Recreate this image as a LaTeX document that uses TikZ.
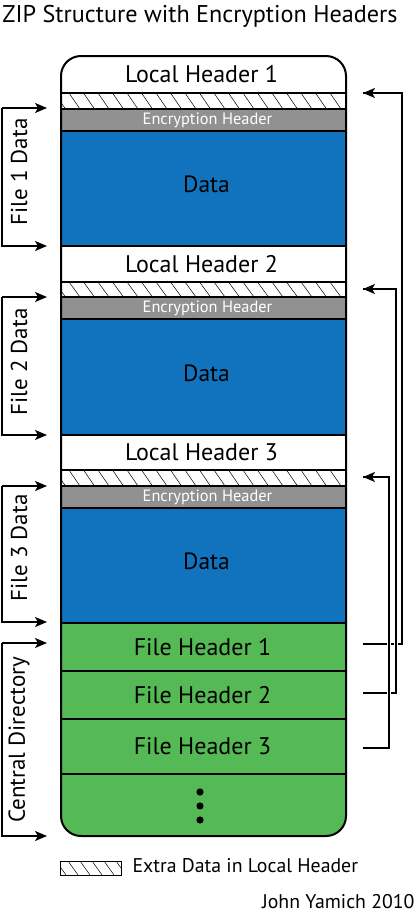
\documentclass[tikz,border=0pt]{standalone}
\usepackage{fontspec}
\setmainfont{PT Sans}
\usetikzlibrary{arrows.meta}
\definecolor{zipblue}{RGB}{17,115,189}
\definecolor{zipgreen}{RGB}{85,185,85}
\definecolor{zipgray}{RGB}{145,145,145}
\begin{document}
\begin{tikzpicture}[x=1pt,y=-1pt,
  row/.style={draw, line width=1.2pt, inner sep=0pt, outer sep=0pt, minimum width=285pt, anchor=north west},
  big/.style={font=\fontsize{24}{28}\selectfont},
  mid/.style={font=\fontsize{23.5}{27}\selectfont},
  small/.style={font=\fontsize{16.4}{19}\selectfont, text=white},
  side/.style={font=\fontsize{23}{27}\selectfont, rotate=90},
  note/.style={font=\fontsize{19.8}{23}\selectfont},
  arr/.style={line width=1.5pt, -{Stealth[length=12pt,width=10pt,inset=3pt]}},
  link/.style={line width=1.5pt, preaction={draw=white, line width=4pt}},
  hatchline/.style={line width=0.5pt}
]
\useasboundingbox (0,0) rectangle (416,916);
\node[font=\fontsize{24.2}{28}\selectfont, anchor=base] (title) at (200,22) {ZIP Structure with Encryption Headers};

\begin{scope}
\clip[rounded corners=20pt] (61,56) rectangle (346,836);
\node[row, minimum height=37pt, fill=white] (lh1) at (61,56) {};
\node[row, minimum height=16pt, fill=white, line width=0.5pt] (h1) at (61,93) {};
\node[row, minimum height=22pt, fill=zipgray] (e1) at (61,109) {};
\node[row, minimum height=115pt, fill=zipblue] (d1) at (61,131) {};
\node[row, minimum height=36pt, fill=white] (lh2) at (61,246) {};
\node[row, minimum height=15pt, fill=white, line width=0.5pt] (h2) at (61,282) {};
\node[row, minimum height=22pt, fill=zipgray] (e2) at (61,297) {};
\node[row, minimum height=116pt, fill=zipblue] (d2) at (61,319) {};
\node[row, minimum height=35pt, fill=white] (lh3) at (61,435) {};
\node[row, minimum height=16pt, fill=white, line width=0.5pt] (h3) at (61,470) {};
\node[row, minimum height=22pt, fill=zipgray] (e3) at (61,486) {};
\node[row, minimum height=115pt, fill=zipblue] (d3) at (61,508) {};
\node[row, minimum height=48pt, fill=zipgreen] (fh1) at (61,623) {};
\node[row, minimum height=48pt, fill=zipgreen] (fh2) at (61,671) {};
\node[row, minimum height=55pt, fill=zipgreen] (fh3) at (61,719) {};
\node[row, minimum height=62pt, fill=zipgreen] (cde) at (61,774) {};
\foreach \t/\b in {93/109, 282/297, 470/486}{
  \begin{scope}
  \clip (61,\t) rectangle (346,\b);
  \foreach \x in {40,54.5,...,360}{
    \draw[hatchline] (\x,\t) -- ++(11,\b-\t);
  }
  \end{scope}
}
\end{scope}
\draw[line width=2pt, rounded corners=20pt] (61,56) rectangle (346,836);

% texts
\node[big, xshift=-2pt] at (lh1.center) {Local Header 1};
\node[big, xshift=-2pt] at (lh2.center) {Local Header 2};
\node[big, xshift=-2pt] at (lh3.center) {Local Header 3};
\node[small, xshift=4pt] at (e1.center) {Encryption Header};
\node[small, xshift=4pt] at (e2.center) {Encryption Header};
\node[small, xshift=4pt] at (e3.center) {Encryption Header};
\node[mid, xshift=3pt, yshift=4pt] at (d1.center) {Data};
\node[mid, xshift=3pt, yshift=4pt] at (d2.center) {Data};
\node[mid, xshift=3pt, yshift=4pt] at (d3.center) {Data};
\node[big, xshift=-1pt] at (fh1.center) {File Header 1};
\node[big, xshift=-1pt] at (fh2.center) {File Header 2};
\node[big, xshift=-1pt] at (fh3.center) {File Header 3};
\foreach \yy in {792,806,820} \fill (200,\yy) circle (3.6pt);

% left brackets
\coordinate (b1t) at (47,108); \coordinate (b1b) at (47,246);
\coordinate (b2t) at (47,297); \coordinate (b2b) at (47,435);
\coordinate (b3t) at (47,486); \coordinate (b3b) at (47,622);
\coordinate (b4t) at (47,643); \coordinate (b4b) at (47,836);
\draw[arr] (2,108) -- (b1t);
\draw[arr] (2,108) -- (2,246) -- (b1b);
\draw[arr] (2,297) -- (b2t);
\draw[arr] (2,297) -- (2,435) -- (b2b);
\draw[arr] (2,486) -- (b3t);
\draw[arr] (2,486) -- (2,622) -- (b3b);
\draw[arr] (2,643) -- (b4t);
\draw[arr] (2,643) -- (2,836) -- (b4b);
\node[side] (l1) at (19,172) {File 1 Data};
\node[side] (l2) at (19,362) {File 2 Data};
\node[side] (l3) at (19,548) {File 3 Data};
\node[side] (l4) at (19,740) {Central Directory};

% right connectors
\coordinate (s1) at (363,644); \coordinate (t1) at (363,93);
\coordinate (s2) at (363,693); \coordinate (t2) at (363,289);
\coordinate (s3) at (363,748); \coordinate (t3) at (363,477);
\draw[link] (s1) -- (402,644) -- (402,93) -- (t1);
\draw[arr] (402,93) -- (t1);
\draw[link] (s2) -- (396,693) -- (396,289) -- (t2);
\draw[arr] (396,289) -- (t2);
\draw[link] (s3) -- (389,748) -- (389,477) -- (t3);
\draw[arr] (389,477) -- (t3);

% legend
\node[draw, line width=0.7pt, minimum width=61pt, minimum height=14pt, inner sep=0pt, anchor=north west] (leg) at (60,861) {};
\begin{scope}
\clip (60,861) rectangle (121,875);
\foreach \x in {56,68,...,130} \draw[hatchline] (\x,861) -- ++(10,14);
\end{scope}
\node[note, anchor=base west] (legtext) at (129,872) {Extra Data in Local Header};
\node[note, anchor=base east] (author) at (418,908) {John Yamich 2010};
\end{tikzpicture}
\end{document}
